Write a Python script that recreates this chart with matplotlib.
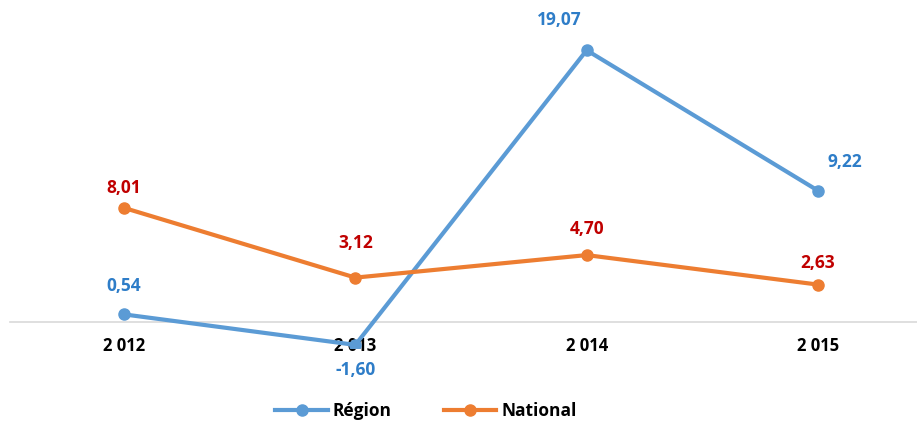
import numpy as np
import matplotlib.pyplot as plt

# Evolution (%) Région vs National
years = ['2 012', '2 013', '2 014', '2 015']
region = [0.54, -1.60, 19.07, 9.22]
national = [8.01, 3.12, 4.70, 2.63]

# label offsets in pixels (dx, dy)
region_off = [(0, 28), (0, -25), (-27, 30), (27, 29)]
national_off = [(0, 20), (0, 35), (0, 26), (0, 22)]

plt.rcParams['font.family'] = ['Open Sans', 'DejaVu Sans']

fig = plt.figure(figsize=(9.17, 4.21), dpi=100)
ax = fig.add_axes([10 / 917, 0.174, 907 / 917, 0.772])

x = np.arange(len(years))
blue = '#5b9bd5'
orange = '#ed7d31'
ax.plot(x, region, color=blue, lw=3, marker='o', ms=8, label='Région', zorder=3)
ax.plot(x, national, color=orange, lw=3, marker='o', ms=8, label='National', zorder=3)

for i in range(len(x)):
    ax.annotate(f'{region[i]:.2f}'.replace('.', ','), (x[i], region[i]),
                xytext=region_off[i], textcoords='offset pixels',
                ha='center', va='center', color='#2e7dc8',
                fontsize=12.5, fontweight='bold')
    ax.annotate(f'{national[i]:.2f}'.replace('.', ','), (x[i], national[i]),
                xytext=national_off[i], textcoords='offset pixels',
                ha='center', va='center', color='#c00000',
                fontsize=12.5, fontweight='bold')

ax.set_xlim(-0.493, 3.428)
ax.set_ylim(-1.8, 21)
for s in ['top', 'right', 'left']:
    ax.spines[s].set_visible(False)
ax.spines['bottom'].set_position(('data', 0))
ax.spines['bottom'].set_color('#d9d9d9')
ax.spines['bottom'].set_linewidth(1.2)
ax.set_xticks(x)
ax.set_xticklabels(years, fontsize=12, fontweight='bold')
ax.tick_params(axis='x', length=0, pad=11)
ax.set_yticks([])
ax.patch.set_alpha(0)

fig.legend(loc='center', bbox_to_anchor=(426 / 917, 10 / 421), ncol=2,
           frameon=False, handlelength=3.0, columnspacing=3.0, handletextpad=0.3,
           borderpad=0.2, prop={'weight': 'bold', 'size': 12.5})

fig.savefig('out.png', dpi=100)
